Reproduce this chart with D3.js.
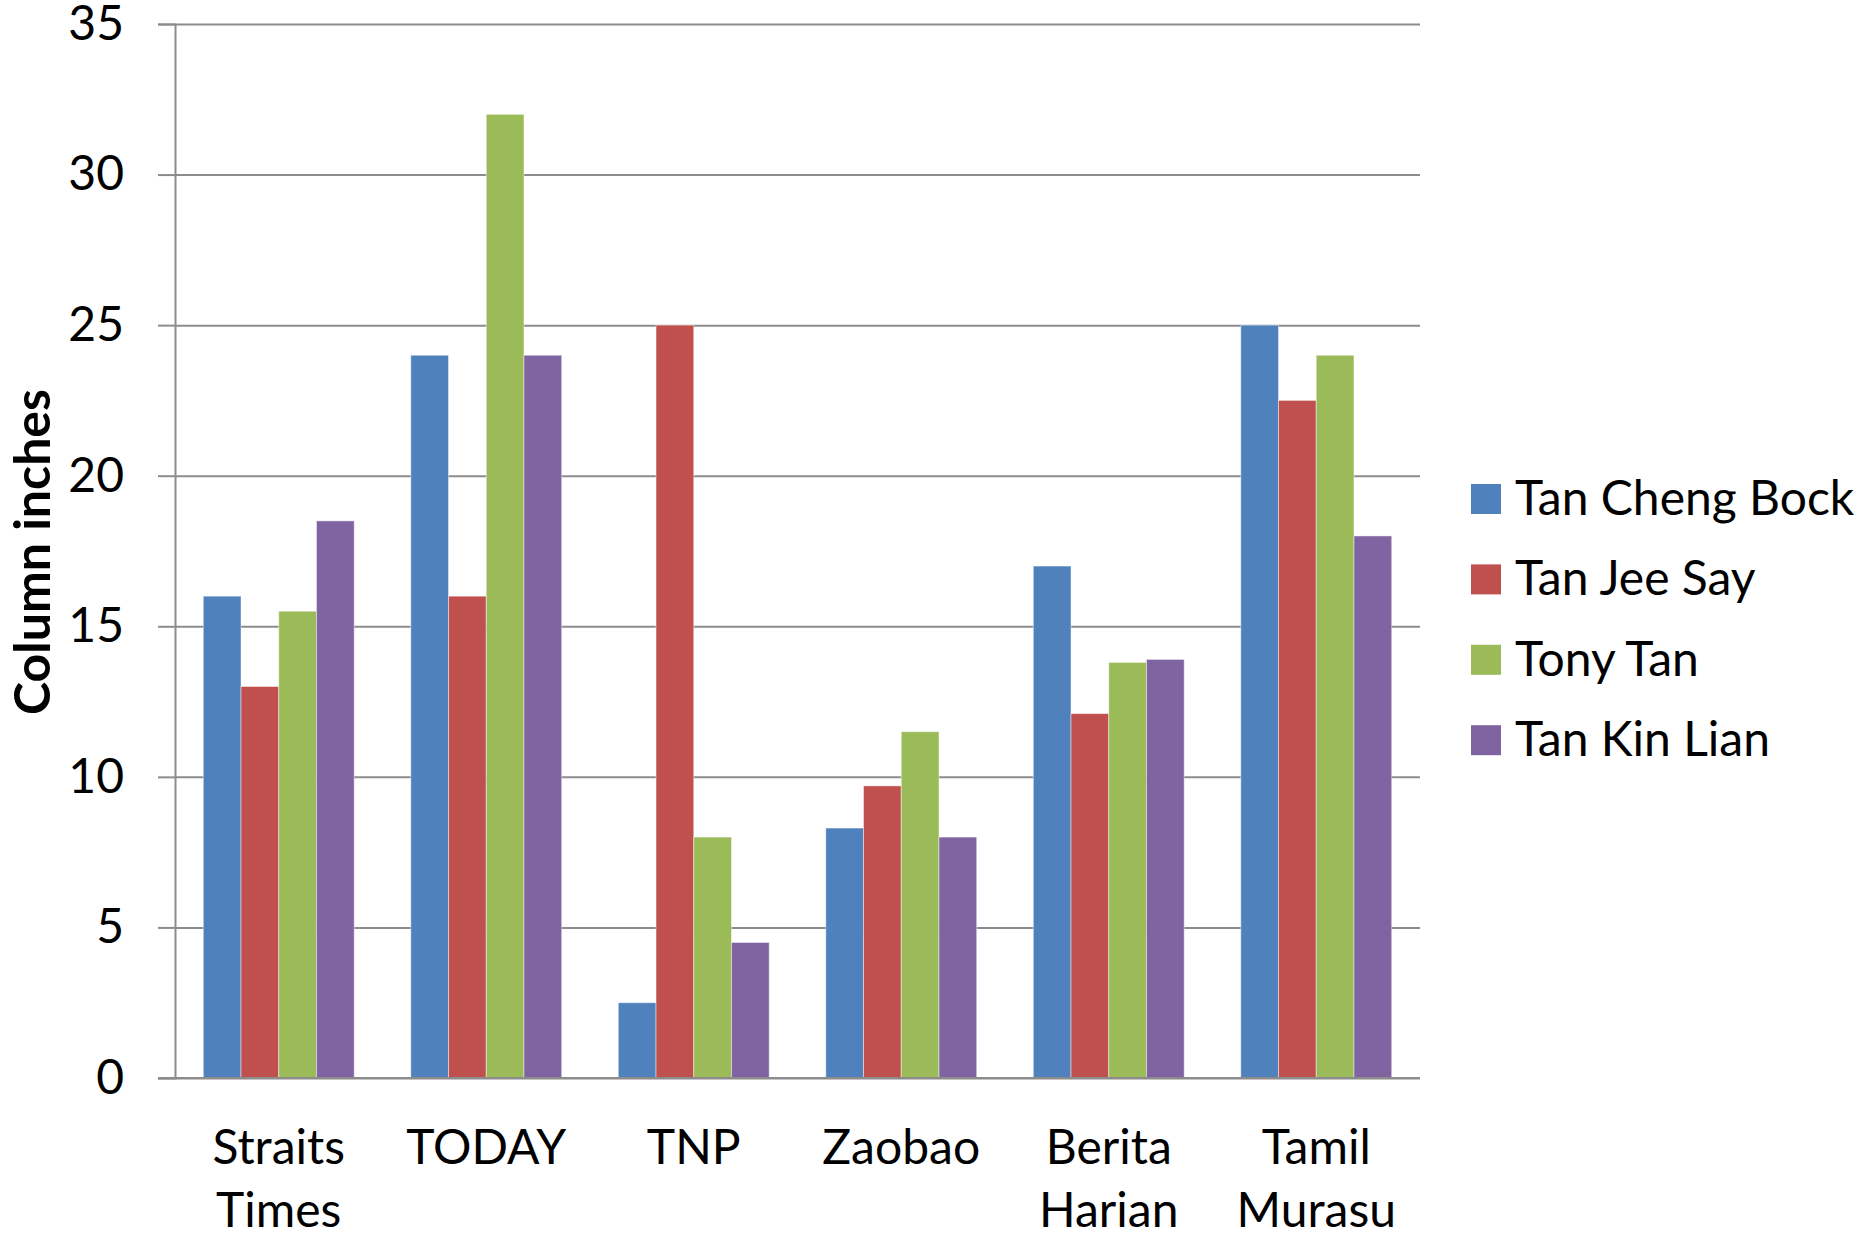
<!DOCTYPE html>
<meta charset="utf-8">
<script src="https://d3js.org/d3.v7.min.js"></script>
<style>
    body { margin: 0; background: #fff; }
    text { font-family: Lato, "Noto Sans", sans-serif; fill: #000; }
</style>
<body>
<div id="chart"></div>
<script>

    // data
    var papers = [["Straits", "Times"], ["TODAY"], ["TNP"], ["Zaobao"], ["Berita", "Harian"], ["Tamil", "Murasu"]];
    var candidates = ["Tan Cheng Bock", "Tan Jee Say", "Tony Tan", "Tan Kin Lian"];
    var tanChengBock = [16, 24, 2.5, 8.3, 17, 25];
    var tanJeeSay = [13, 16, 25, 9.7, 12.1, 22.5];
    var tonyTan = [15.5, 32, 8, 11.5, 13.8, 24];
    var tanKinLian = [18.5, 24, 4.5, 8, 13.9, 18];
    var yTicks = [0, 5, 10, 15, 20, 25, 30, 35];
    var colors = ["#4F81BD", "#C0504D", "#9BBB59", "#8064A2"];

    var series = [tanChengBock, tanJeeSay, tonyTan, tanKinLian];
    var paperKeys = papers.map(function (p) { return p.join(" "); });

    var width = 1868, height = 1235;
    var plot = { left: 175, right: 1420, top: 24, bottom: 1078 };

    var svg = d3.select("#chart")
        .append("svg")
        .attr("width", width)
        .attr("height", height);

    var x0 = d3.scaleBand()
        .domain(paperKeys)
        .range([plot.left, plot.right])
        .paddingInner(1.5 / 5.5)
        .paddingOuter(0.75 / 5.5);

    var x1 = d3.scaleBand()
        .domain(candidates)
        .range([0, x0.bandwidth()]);

    var y = d3.scaleLinear()
        .domain([0, 35])
        .range([plot.bottom, plot.top]);

    // gridlines
    svg.append("g")
        .attr("transform", "translate(" + plot.left + ",0)")
        .call(d3.axisRight(y).tickValues(yTicks).tickSize(plot.right - plot.left).tickFormat(""))
        .call(function (g) {
            g.select(".domain").remove();
            g.selectAll("line").attr("stroke", "#8c8c8c").attr("stroke-width", 2);
        });

    // bars
    var rows = paperKeys.map(function (k, i) {
        return { paper: k, values: candidates.map(function (c, j) { return { name: c, value: series[j][i], color: colors[j] }; }) };
    });

    svg.append("g")
        .selectAll("g")
        .data(rows)
        .enter()
        .append("g")
        .attr("transform", function (d) { return "translate(" + x0(d.paper) + ",0)"; })
        .selectAll("rect")
        .data(function (d) { return d.values; })
        .enter()
        .append("rect")
        .attr("x", function (d) { return x1(d.name); })
        .attr("y", function (d) { return y(d.value); })
        .attr("width", x1.bandwidth())
        .attr("height", function (d) { return y(0) - y(d.value); })
        .attr("fill", function (d) { return d.color; })
        .attr("stroke", "rgba(255,255,255,0.45)")
        .attr("stroke-width", 1);

    // y axis
    svg.append("g")
        .attr("transform", "translate(" + plot.left + ",0)")
        .call(d3.axisLeft(y).tickValues(yTicks).tickSize(17).tickPadding(34))
        .call(function (g) {
            g.select(".domain").attr("stroke", "#8c8c8c").attr("stroke-width", 2);
            g.selectAll("line").attr("stroke", "#8c8c8c").attr("stroke-width", 2);
            g.selectAll("text").style("font-family", "Lato").style("font-size", "48px").attr("fill", "#000");
        });

    // baseline over bars
    svg.append("line")
        .attr("x1", plot.left - 17).attr("x2", plot.right)
        .attr("y1", y(0)).attr("y2", y(0))
        .attr("stroke", "#8c8c8c").attr("stroke-width", 2);

    // x labels
    var xl = svg.append("g")
        .selectAll("text")
        .data(papers)
        .enter()
        .append("text")
        .attr("text-anchor", "middle")
        .attr("font-size", "48px")
        .attr("x", function (d) { return x0(d.join(" ")) + x0.bandwidth() / 2; })
        .attr("y", 1164);
    xl.selectAll("tspan")
        .data(function (d) { return d; })
        .enter()
        .append("tspan")
        .attr("x", function () { var p = this.parentNode; return p.getAttribute("x"); })
        .attr("dy", function (d, i) { return i === 0 ? 0 : 63; })
        .text(function (d) { return d; });

    // y title
    svg.append("text")
        .attr("text-anchor", "middle")
        .attr("transform", "translate(50,552) rotate(-90)")
        .attr("font-size", "50px")
        .attr("font-weight", "bold")
        .text("Column inches");

    // legend
    var legend = svg.append("g")
        .selectAll("g")
        .data(candidates)
        .enter()
        .append("g")
        .attr("transform", function (d, i) { return "translate(1471," + (499 + i * 80.4) + ")"; });
    legend.append("rect")
        .attr("x", 0).attr("y", -15)
        .attr("width", 30).attr("height", 30)
        .attr("fill", function (d, i) { return colors[i]; });
    legend.append("text")
        .attr("x", 44)
        .attr("y", 16)
        .attr("font-size", "48px")
        .text(function (d) { return d; });

</script>
</body>
